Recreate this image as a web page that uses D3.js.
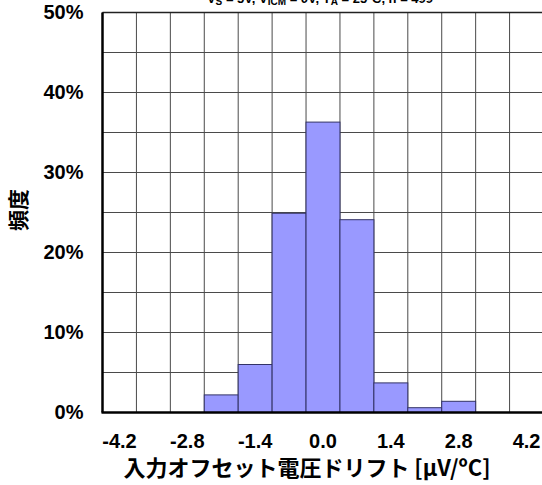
<!DOCTYPE html>
<html>
<head>
<meta charset="utf-8">
<script src="https://cdn.jsdelivr.net/npm/d3@7"></script>
<style>
  body { margin: 0; background: #fff; }
  svg { display: block; }
</style>
</head>
<body>
<svg id="drawing_region"></svg>
<script>
// bin centers [μV/ºC] and frequency [%]
const binCenters = [-4.2, -3.5, -2.8, -2.1, -1.4, -0.7, 0.0, 0.7, 1.4, 2.1, 2.8, 3.5, 4.2];
const freqValues = [0, 0, 0, 2.2, 6.0, 24.9, 36.3, 24.1, 3.7, 0.6, 1.4, 0, 0];
const xTickLabels = [-4.2, -2.8, -1.4, 0.0, 1.4, 2.8, 4.2];
const yTickValues = [0, 10, 20, 30, 40, 50];
const yGridValues = [0, 5, 10, 15, 20, 25, 30, 35, 40, 45, 50];

const config = {
    width: 542,
    height: 485,
    margin: {top: 12.5, right: -1.5, bottom: 72.5, left: 102.5}
};

const svg = d3.select('#drawing_region')
    .attr('width', config.width)
    .attr('height', config.height);

const innerWidth = config.width - config.margin.left - config.margin.right;
const innerHeight = config.height - config.margin.top - config.margin.bottom;

const chart = svg.append('g')
    .attr('transform', `translate(${config.margin.left}, ${config.margin.top})`);

const xscale = d3.scaleBand()
    .domain(binCenters)
    .range([0, innerWidth])
    .padding(0);

const yscale = d3.scaleLinear()
    .domain([0, 50])
    .range([innerHeight, 0]);

// grid
chart.append('g')
    .selectAll('line')
    .data(yGridValues)
    .join('line')
    .attr('x1', 0)
    .attr('x2', innerWidth)
    .attr('y1', d => yscale(d))
    .attr('y2', d => yscale(d))
    .attr('stroke', '#4a4a4a')
    .attr('stroke-width', 1);

chart.append('g')
    .selectAll('line')
    .data(binCenters)
    .join('line')
    .attr('x1', d => xscale(d))
    .attr('x2', d => xscale(d))
    .attr('y1', 0)
    .attr('y2', innerHeight)
    .attr('stroke', '#4a4a4a')
    .attr('stroke-width', 1);

// bars
chart.append('g')
    .selectAll('rect')
    .data(binCenters.map((c, i) => ({c: c, v: freqValues[i]})).filter(d => d.v > 0))
    .join('rect')
    .attr('x', d => xscale(d.c))
    .attr('y', d => yscale(d.v))
    .attr('width', xscale.bandwidth())
    .attr('height', d => innerHeight - yscale(d.v))
    .attr('fill', '#9999ff')
    .attr('stroke', '#333366')
    .attr('stroke-width', 1);

// frame
chart.append('line')
    .attr('x1', 0).attr('x2', innerWidth)
    .attr('y1', 0).attr('y2', 0)
    .attr('stroke', '#222').attr('stroke-width', 1.5);
chart.append('line')
    .attr('x1', 0).attr('x2', 0)
    .attr('y1', 0).attr('y2', innerHeight)
    .attr('stroke', '#000').attr('stroke-width', 2.5);
chart.append('line')
    .attr('x1', -1).attr('x2', innerWidth)
    .attr('y1', innerHeight).attr('y2', innerHeight)
    .attr('stroke', '#000').attr('stroke-width', 2.5);

// axes
const xaxis = d3.axisBottom(xscale)
    .tickValues(xTickLabels)
    .tickSize(0)
    .tickPadding(21)
    .tickFormat(d => d.toFixed(1));

const yaxis = d3.axisLeft(yscale)
    .tickValues(yTickValues)
    .tickSize(0)
    .tickPadding(19)
    .tickFormat(d => d + '%');

const xaxisGroup = chart.append('g')
    .attr('transform', `translate(0, ${innerHeight})`)
    .call(xaxis);
const yaxisGroup = chart.append('g')
    .call(yaxis);

[xaxisGroup, yaxisGroup].forEach(g => {
    g.select('.domain').remove();
    g.selectAll('text')
        .attr('fill', '#000')
        .attr('font-family', 'Liberation Sans, Arial, sans-serif')
        .attr('font-weight', 'bold')
        .attr('font-size', '20px');
});

// title (clipped at the top)
svg.append('text')
    .attr('x', 320)
    .attr('y', 3)
    .attr('text-anchor', 'middle')
    .attr('font-family', 'Liberation Sans, Arial, sans-serif')
    .attr('font-weight', 'bold')
    .attr('font-size', '13px')
    .html('V<tspan font-size="10px" dy="2">S</tspan><tspan dy="-2"> = 5V, V</tspan><tspan font-size="10px" dy="2">ICM</tspan><tspan dy="-2"> = 0V, T</tspan><tspan font-size="10px" dy="2">A</tspan><tspan dy="-2"> = 25ºC, n = 499</tspan>');

// axis titles
svg.append('text')
    .attr('x', 307)
    .attr('y', 476)
    .attr('text-anchor', 'middle')
    .attr('font-family', 'Noto Sans CJK JP, sans-serif')
    .attr('font-weight', 'bold')
    .attr('font-size', '22px')
    .text('入力オフセット電圧ドリフト [μV/ºC]');

svg.append('text')
    .attr('transform', 'translate(26, 210) rotate(-90)')
    .attr('text-anchor', 'middle')
    .attr('font-family', 'Noto Sans CJK JP, sans-serif')
    .attr('font-weight', 'bold')
    .attr('font-size', '21px')
    .text('頻度');
</script>
</body>
</html>
